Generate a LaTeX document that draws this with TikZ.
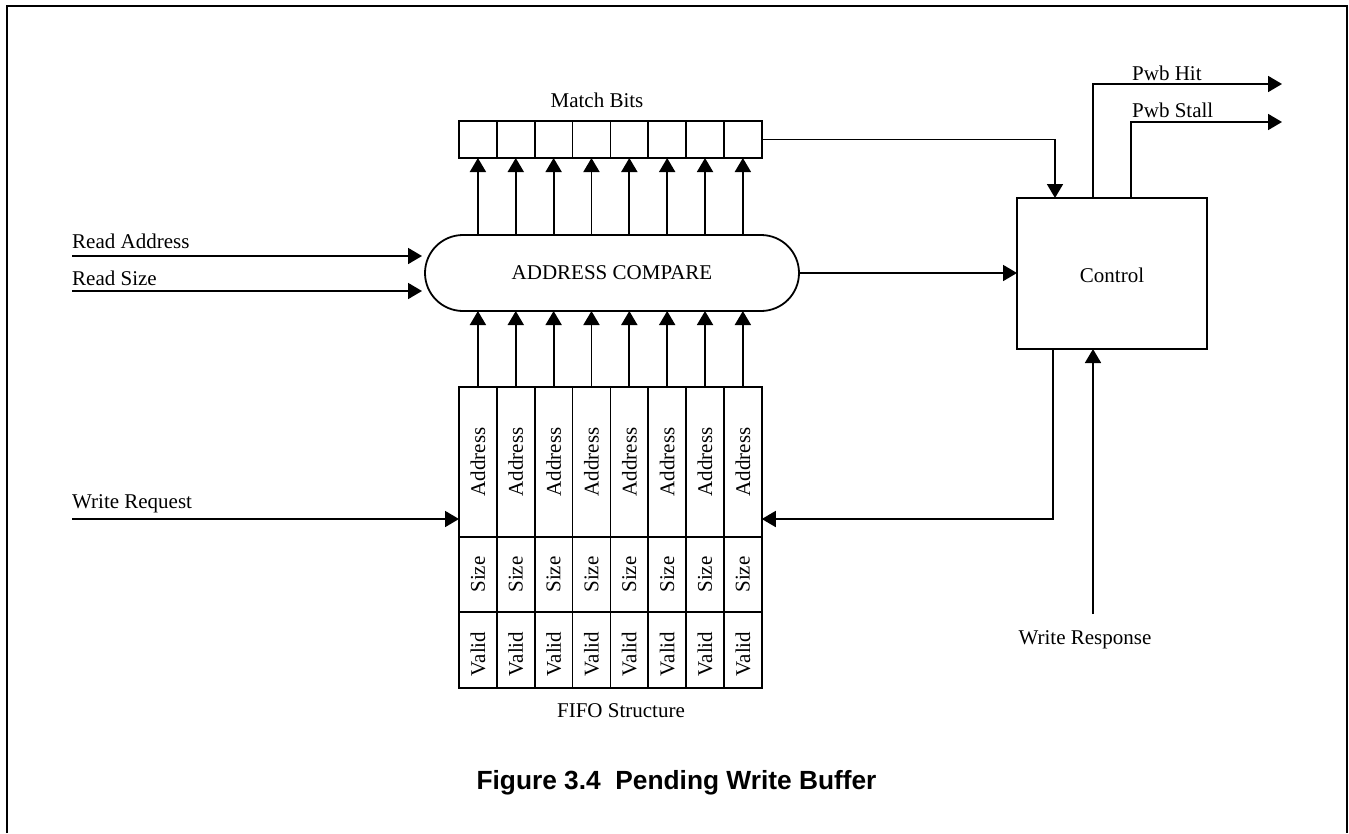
\documentclass[tikz,border=0pt]{standalone}
\usepackage{fontspec}
\setmainfont{Liberation Serif}
\newfontfamily\capfont{Liberation Sans}
\usetikzlibrary{arrows.meta}

\tikzset{
  wire/.style={line width=1.8pt},
  arr/.style={wire, -{Triangle[length=14pt,width=16pt]}},
  cell/.style={draw, line width=1.8pt, inner sep=0pt, outer sep=0pt, minimum width=37.85pt},
  lbl/.style={inner sep=0pt, font=\fontsize{21}{25}\selectfont},
  vlbl/.style={lbl, rotate=90}
}

\begin{document}
\begin{tikzpicture}[x=1pt,y=-1pt]
  \useasboundingbox (0,0) rectangle (1349,833);
  % open frame around the figure
  \draw[wire] (7,833) -- (7,6) -- (1347,6) -- (1347,833);

  % match bit register
  \foreach \i in {1,...,8} {
    \node[cell, minimum height=37pt] (m\i) at ({459+37.85*(\i-0.5)},139.5) {};
  }
  \node[lbl] (mblbl) at (597,100) {Match Bits};

  % comparator
  \node[draw, wire, rounded corners=38pt, minimum width=374pt, minimum height=76pt,
        inner sep=0pt, outer sep=0pt, font=\fontsize{21}{25}\selectfont]
        (cmp) at (612,273) {ADDRESS COMPARE};

  % FIFO entries: address, size, valid
  \foreach \i in {1,...,8} {
    \node[cell, minimum height=150pt] (a\i) at ({459+37.85*(\i-0.5)},462) {};
    \node[cell, minimum height=75pt]  (s\i) at ({459+37.85*(\i-0.5)},574.5) {};
    \node[cell, minimum height=76pt]  (v\i) at ({459+37.85*(\i-0.5)},650) {};
    \node[vlbl] at (a\i) {Address};
    \node[vlbl] at (s\i) {Size};
    \node[vlbl] at ([yshift=-4pt]v\i.center) {Valid};
    \draw[arr] (cmp.north -| m\i) -- (m\i.south);
    \draw[arr] (a\i.north) -- (cmp.south -| a\i);
  }
  \node[lbl] (fifolbl) at (621,711) {FIFO Structure};

  % control block
  \node[draw, wire, minimum width=190pt, minimum height=151pt, inner sep=0pt, outer sep=0pt]
        (ctl) at (1112,273.5) {};
  \node[lbl] (ctllbl) at (1112,275.5) {Control};

  % inputs on the left
  \coordinate (ra) at (72,256);
  \coordinate (rs) at (72,291);
  \coordinate (wq) at (72,519);
  \node[lbl, anchor=west] (ralbl) at (72,241) {Read Address};
  \node[lbl, anchor=west] (rslbl) at (72,278) {Read Size};
  \node[lbl, anchor=west] (wqlbl) at (72,504) {Write Request};
  \draw[arr, shorten >=3pt] (ra) -- (ra -| cmp.west);
  \draw[arr, shorten >=3pt] (rs) -- (rs -| cmp.west);
  \draw[arr] (wq) -- (wq -| a1.west);

  % comparator and match bits into control
  \draw[arr] (cmp.east) -- (cmp.east -| ctl.west);
  \draw[arr] (m8.east) -| ([xshift=38pt]ctl.north west);

  % control outputs
  \coordinate (hit) at (1282,84);
  \coordinate (stall) at (1282,122);
  \draw[arr] ([xshift=76pt]ctl.north west) |- (hit);
  \draw[arr] ([xshift=114pt]ctl.north west) |- (stall);
  \node[lbl, anchor=west] (hitlbl) at (1132,73.5) {Pwb Hit};
  \node[lbl, anchor=west] (stalllbl) at (1132,110.5) {Pwb Stall};

  % control back to the FIFO
  \draw[arr] ([xshift=36pt]ctl.south west) |- (wq -| a8.east);

  % write response into control
  \coordinate (wr) at (1093,614);
  \draw[arr] (wr) -- (wr |- ctl.south);
  \node[lbl] (wrlbl) at (1085,640) {Write Response};

  % caption
  \node[inner sep=0pt, font=\capfont\bfseries\fontsize{26.3}{30}\selectfont]
        (cap) at (676.5,783) {Figure 3.4~~Pending Write Buffer};
\end{tikzpicture}
\end{document}
